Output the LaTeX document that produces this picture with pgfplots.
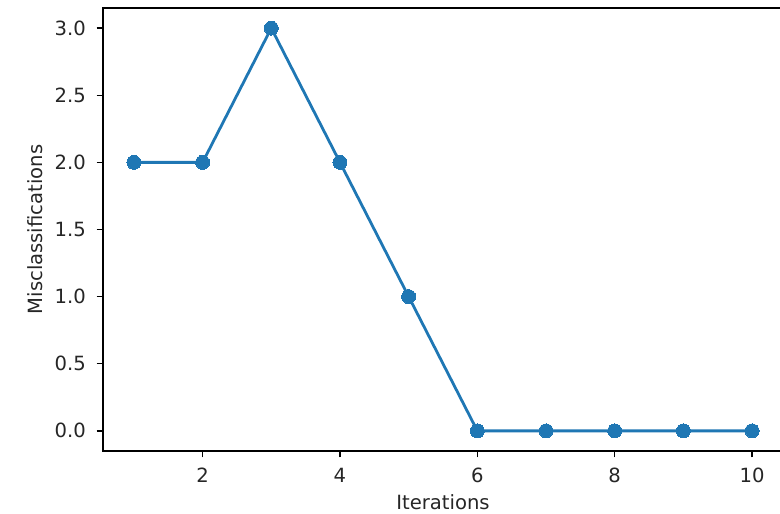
\documentclass[border=0pt]{standalone}
\usepackage{pgfplots}
\pgfplotsset{compat=1.18}
\usepackage{fontspec}
\setmainfont{DejaVu Sans}
\definecolor{mplblue}{HTML}{1F77B4}
\definecolor{txt}{HTML}{262626}
\begin{document}
\fontsize{9.8pt}{12pt}\selectfont
\begin{tikzpicture}
\begin{axis}[
  name=ax,
  at={(0,0)}, anchor=south west,
  scale only axis,
  width=340pt, height=221.5pt,
  xmin=0.55, xmax=10.45,
  ymin=-0.15, ymax=3.15,
  xtick={2,4,6,8,10},
  ytick={0,0.5,1,1.5,2,2.5,3},
  yticklabel style={xshift=-2pt,/pgf/number format/.cd,fixed,fixed zerofill,precision=1},
  /pgf/number format/assume math mode=true,
  tick align=outside,
  tick pos=left,
  major tick length=3.15pt,
  tick style={line width=0.72pt, color=black},
  axis line style={line width=0.72pt, color=black},
  ticklabel style={font=\fontsize{9.8pt}{12pt}\selectfont, text=txt},
  xticklabel style={yshift=-2pt},
  xlabel={Iterations},
  ylabel={Misclassifications},
  label style={font=\fontsize{9.8pt}{12pt}\selectfont, text=txt},
  xlabel style={yshift=1pt},
  ylabel style={yshift=-1pt},
  grid=none,
]
\addplot[color=mplblue, line width=1.4pt, mark=*, mark size=3.5pt, mark options={fill=mplblue, draw=mplblue, line width=0pt}]
  coordinates {(1,2) (2,2) (3,3) (4,2) (5,1) (6,0) (7,0) (8,0) (9,0) (10,0)};
\end{axis}
\pgfresetboundingbox
\useasboundingbox (-51.5pt,-31pt) rectangle (338.5pt,225.5pt);
\end{tikzpicture}
\end{document}
